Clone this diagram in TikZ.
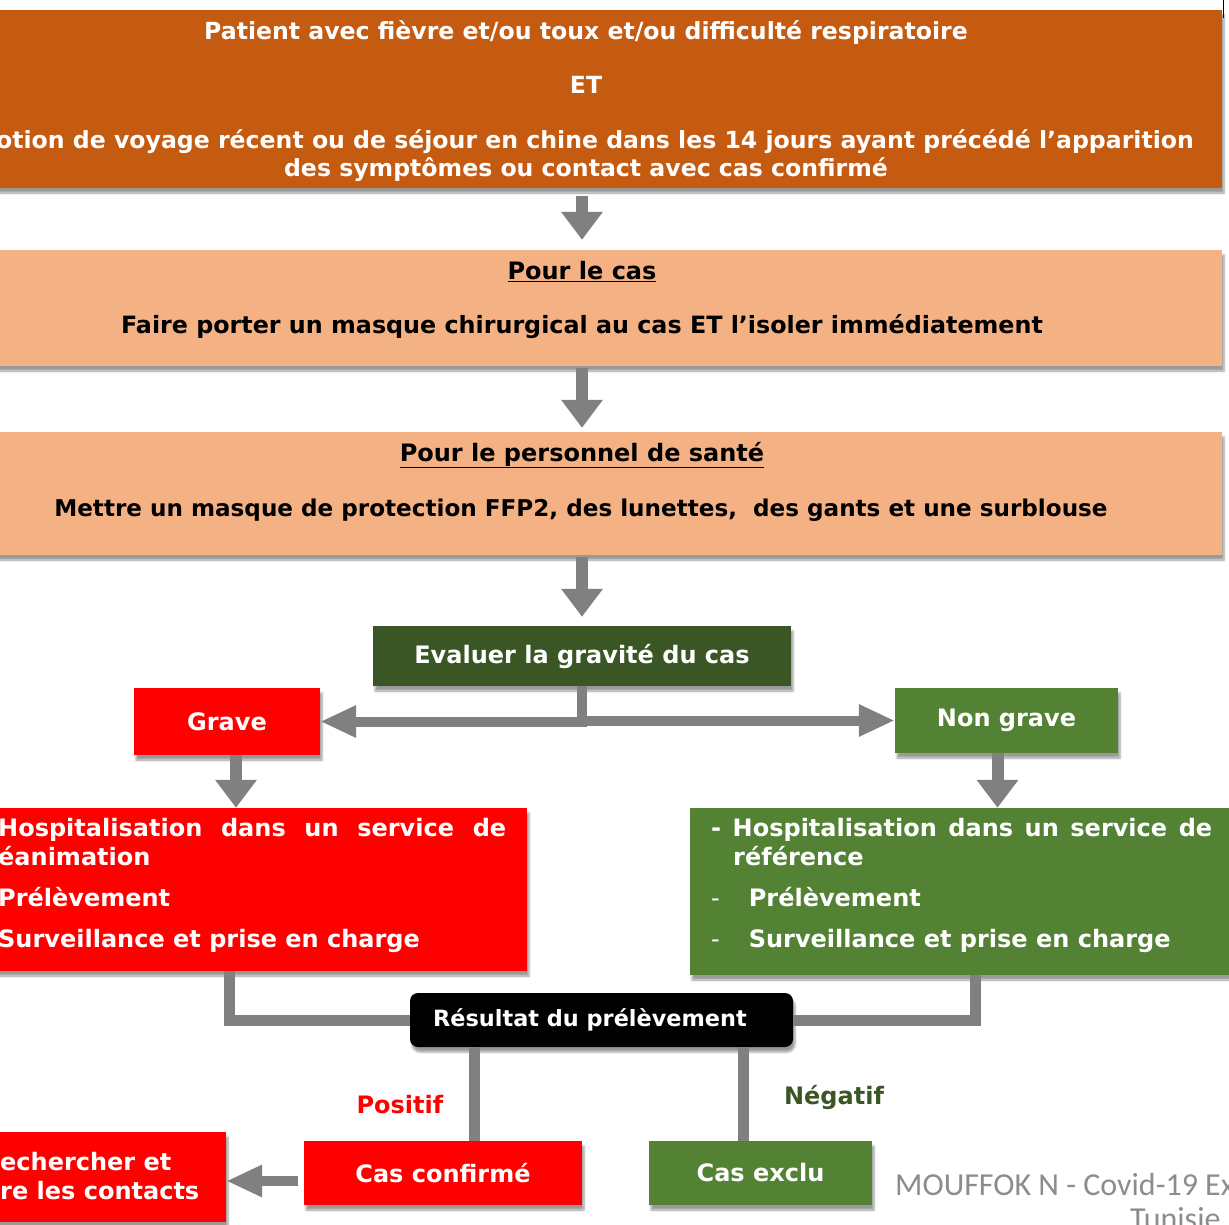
\documentclass[tikz,border=0pt]{standalone}
\usepackage{fontspec}
\setmainfont{DejaVu Sans}
\newfontfamily\wmfont{Carlito}
\usepackage{tikz}
\usetikzlibrary{arrows.meta}
\usetikzlibrary{shadows.blur}
\usepackage{xcolor}

\definecolor{brique}{HTML}{C55A11}
\definecolor{saumon}{HTML}{F4B183}
\definecolor{vertfonce}{HTML}{3A5624}
\definecolor{vert}{HTML}{548235}
\definecolor{rouge}{HTML}{FF0000}
\definecolor{fleche}{HTML}{808080}
\definecolor{filigrane}{HTML}{8C8C8C}

\begin{document}
\begin{tikzpicture}[x=1pt,y=-1pt,
  boite/.style={inner sep=0pt,blur shadow={shadow xshift=2pt,shadow yshift=-5pt}},
  txt/.style={inner sep=0pt,font=\bfseries\fontsize{24}{29}\selectfont},
  flv/.style={draw=fleche,line width=12pt,-{Triangle[width=40pt,length=28pt]}},
  flh/.style={draw=fleche,line width=10pt,-{Triangle[width=30pt,length=36pt]}},
  conn/.style={draw=fleche,line width=11pt}]
\useasboundingbox (0,0) rectangle (1229,1225);
\clip (0,0) rectangle (1229,1225);
 \draw[line width=1.5pt] (1223.5,0) -- (1223.5,18);

 \node[boite,fill=brique,minimum width=1280pt,minimum height=178pt] (patient) at (582,99) {};
 \node[txt,text=white,align=center,font=\bfseries\fontsize{23.6}{28}\selectfont] (patient-t) at (586,101)
  {Patient avec fièvre et/ou toux et/ou difficulté respiratoire\\[26pt]
   ET\\[27pt]
   \hspace*{18pt}otion de voyage récent ou de séjour en chine dans les 14 jours ayant précédé l’apparition\\
   des symptômes ou contact avec cas confirmé};

 \node[boite,fill=saumon,minimum width=1280pt,minimum height=116pt] (cas) at (582,308) {};
 \node[txt] (cas-titre) at (582,272) {\underline{Pour le cas}};
 \node[txt,font=\bfseries\fontsize{23.8}{29}\selectfont] (cas-t) at (582,327) {Faire porter un masque chirurgical au cas ET l’isoler immédiatement};

 \node[boite,fill=saumon,minimum width=1280pt,minimum height=123pt] (perso) at (582,493.5) {};
 \node[txt] (perso-titre) at (582,455) {\underline{Pour le personnel de santé}};
 \node[txt,font=\bfseries\fontsize{23.1}{29}\selectfont] (perso-t) at (581,510) {Mettre un masque de protection FFP2, des lunettes,\ \ des gants et une surblouse};

 \node[boite,fill=vertfonce,text=white,txt,minimum width=418pt,minimum height=60pt] (eval) at (582,656) {Evaluer la gravité du cas};
 \node[boite,fill=rouge,text=white,txt,minimum width=186pt,minimum height=67pt] (grave) at (227,721.5) {Grave};
 \node[boite,fill=vert,text=white,txt,minimum width=223pt,minimum height=65pt] (nongrave) at (1006.5,720.5) {Non grave};

 \node[boite,fill=rouge,minimum width=582pt,minimum height=163pt] (hospG) at (236,889.5) {};
 \node[txt,text=white,align=left,anchor=north west] (hospG-t) at (-2,818)
  {\makebox[508pt][s]{Hospitalisation dans un service de}\\
   éanimation\\[12pt]
   Prélèvement\\[12pt]
   Surveillance et prise en charge};

 \node[boite,fill=vert,minimum width=570pt,minimum height=167pt] (hospNG) at (975,891.5) {};
 \node[txt,text=white,align=left,anchor=north west] (hospNG-t) at (711,818)
  {\makebox[501pt][s]{- Hospitalisation dans un service de}\\
   \hspace*{22pt}référence\\[12pt]
   {\mdseries -}\hspace*{29pt}Prélèvement\\[12pt]
   {\mdseries -}\hspace*{29pt}Surveillance et prise en charge};

 \node[boite,fill=black,text=white,txt,font=\bfseries\fontsize{22.4}{28}\selectfont,rounded corners=8pt,minimum width=383pt,minimum height=54pt] (res) at (601.5,1020) {\hspace*{-23pt}Résultat du prélèvement};
 \node[boite,fill=rouge,text=white,txt,minimum width=278pt,minimum height=64pt] (confirme) at (443,1173) {Cas confirmé};
 \node[boite,fill=vert,text=white,txt,minimum width=223pt,minimum height=64pt] (exclu) at (760.5,1173) {Cas exclu};
 \node[boite,fill=rouge,minimum width=286pt,minimum height=90pt] (rech) at (83,1177) {};
 \node[txt,text=white,align=left,anchor=north west] (rech-t) at (0,1152)
  {echercher et\\
   re les contacts};

 \node[txt,text=rouge] (positif) at (400,1105) {Positif};
 \node[txt,text=vertfonce] (negatif) at (834,1097) {Négatif};

 \draw[flv,shorten <=8pt,shorten >=10pt] (patient.south) -- (cas.north);
 \draw[flv,shorten <=2pt,shorten >=4pt] (cas.south) -- (perso.north);
 \draw[flv,shorten <=2pt,shorten >=9pt] (perso.south) -- (eval.north);
 \draw[flh] (eval.south) |- (grave.east);
 \draw[flh] (eval.south) |- (nongrave.west);
 \draw[flv] (hospG.north |- grave.south) -- (hospG.north);
 \draw[flv] ([xshift=-9pt]nongrave.south) -- ([xshift=-9pt]nongrave.south |- hospNG.north);

 \draw[conn] ([xshift=-7pt]hospG.south) |- (res.west);
 \draw[conn] (hospNG.south) |- (res.east);
 \draw[conn] ([xshift=31pt]confirme.north) -- ([xshift=31pt]confirme.north |- res.south);
 \draw[conn] ([xshift=-17.5pt]exclu.north) -- ([xshift=-17.5pt]exclu.north |- res.south);
 \draw[flh,shorten <=6pt] ([yshift=-8pt]confirme.west) -- ([yshift=-8pt]confirme.west -| rech.east);

 \node[anchor=base west,inner sep=0pt,text=filigrane,font=\wmfont\fontsize{32}{38}\selectfont] (auteur) at (895,1195) {MOUFFOK N - Covid-19 Ex};
 \node[anchor=base west,inner sep=0pt,text=filigrane,font=\wmfont\fontsize{32}{38}\selectfont] (pays) at (1130,1229) {Tunisie};
\end{tikzpicture}
\end{document}
